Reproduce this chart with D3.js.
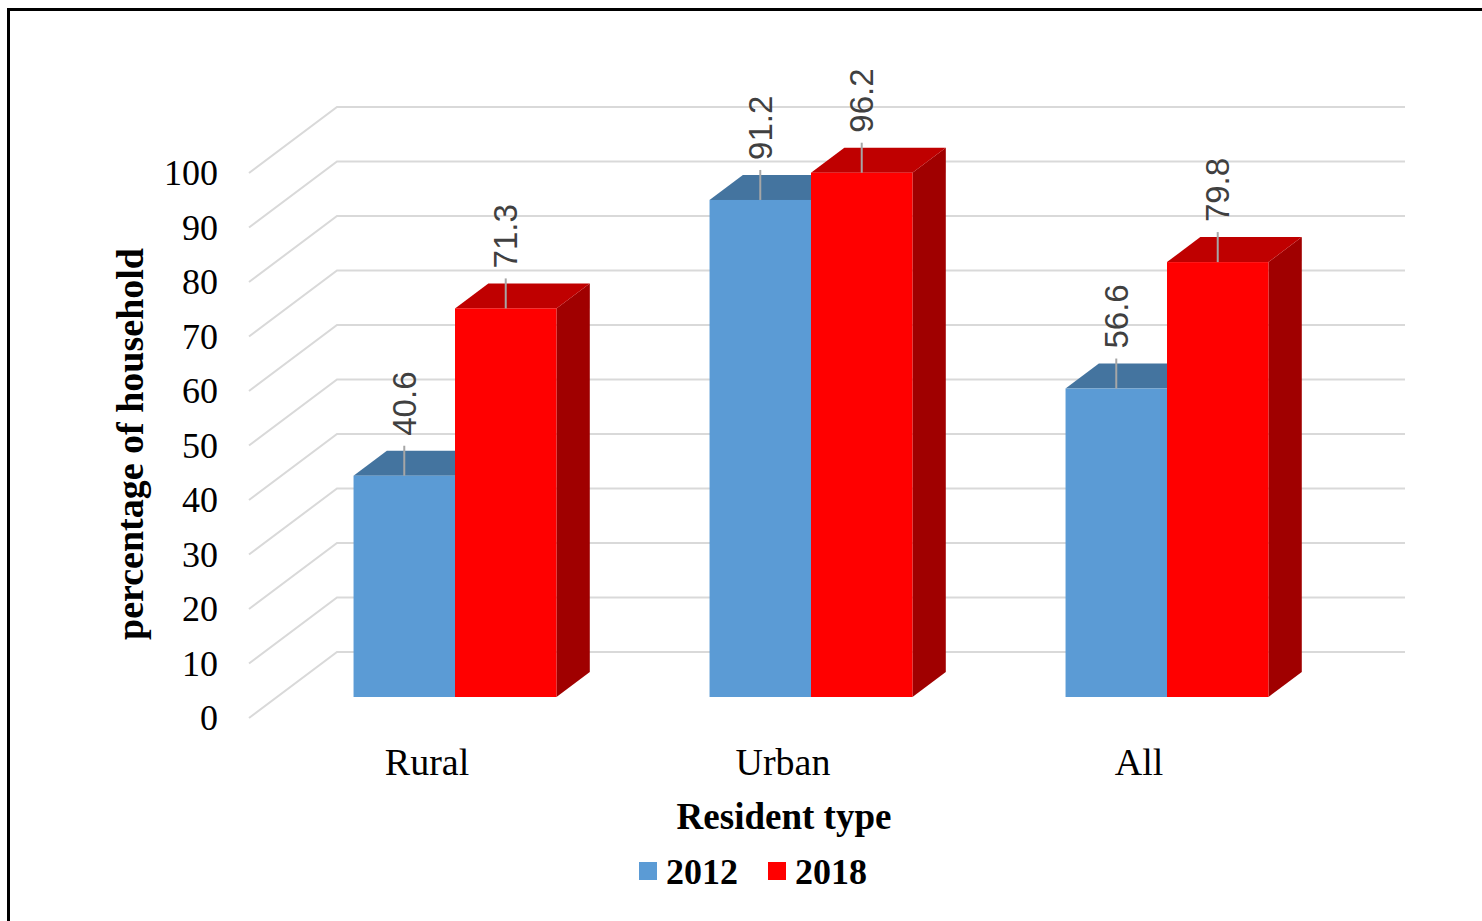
<!DOCTYPE html>
<html>
<head>
<meta charset="utf-8">
<script src="https://cdn.jsdelivr.net/npm/d3@7"></script>
<style>
  html, body { margin: 0; padding: 0; background: #fff; }
  svg { display: block; }
</style>
</head>
<body>
<svg id="chart" width="1482" height="921"></svg>
<script>
// Household share by resident type, 2012 vs 2018
const categories = ["Rural", "Urban", "All"];
const seriesNames = ["2012", "2018"];
const values2012 = [40.6, 91.2, 56.6];
const values2018 = [71.3, 96.2, 79.8];
const yTicks = [0, 10, 20, 30, 40, 50, 60, 70, 80, 90, 100];

const seriesValues = [values2012, values2018];
const palette = {
  "2012": { front: "#5B9BD5", top: "#44749F", side: "#3A6590" },
  "2018": { front: "#FF0000", top: "#BF0000", side: "#A00000" }
};

const svg = d3.select("#chart");
const W = 1482, H = 921;

// Oblique projection: depth 0 = front edge of floor, 1 = back wall
const depthX = 88, depthY = 66;
const barD0 = 21 / 66, barD1 = 46 / 66;

const y = d3.scaleLinear().domain([0, 100]).range([718, 173]);
const x = d3.scaleBand().domain(categories).range([249, 1317])
  .paddingInner(0.43).paddingOuter(0.215);
const xSub = d3.scaleBand().domain(seriesNames).range([0, x.bandwidth()]).padding(0);

const proj = (px, v, d) => [px + d * depthX, y(v) - d * depthY];

// Outer frame
svg.append("path")
  .attr("d", `M${W + 5},9.5 H8.5 V${H + 5}`)
  .attr("fill", "none").attr("stroke", "#000").attr("stroke-width", 3);

// Gridlines: diagonal along the side, then across the back wall
const grid = svg.append("g");
yTicks.forEach(t => {
  const a = proj(x.range()[0], t, 0);
  const b = proj(x.range()[0], t, 1);
  const c = proj(x.range()[1], t, 1);
  grid.append("path")
    .attr("d", `M${a[0]},${a[1]} L${b[0]},${b[1]} L${c[0]},${c[1]}`)
    .attr("fill", "none").attr("stroke", "#D9D9D9").attr("stroke-width", 2);
});

// Y tick labels
svg.append("g").selectAll("text").data(yTicks).join("text")
  .attr("x", 218).attr("y", d => y(d))
  .attr("text-anchor", "end").attr("dominant-baseline", "central")
  .attr("font-family", "'Liberation Serif', 'Times New Roman', serif")
  .attr("font-size", 36).attr("fill", "#000")
  .text(d => d);

// Bars
const barsG = svg.append("g");
const labelsG = svg.append("g");
categories.forEach((cat, ci) => {
  seriesNames.forEach((s, si) => {
    const v = seriesValues[si][ci];
    const xl = x(cat) + xSub(s);
    const xr = xl + xSub.bandwidth();
    const col = palette[s];
    const p = (px, val, d) => proj(px, val, d).join(",");
    // side face
    barsG.append("path")
      .attr("d", `M${p(xr, 0, barD0)} L${p(xr, 0, barD1)} L${p(xr, v, barD1)} L${p(xr, v, barD0)} Z`)
      .attr("fill", col.side);
    // top face
    barsG.append("path")
      .attr("d", `M${p(xl, v, barD0)} L${p(xl, v, barD1)} L${p(xr, v, barD1)} L${p(xr, v, barD0)} Z`)
      .attr("fill", col.top);
    // front face
    const f0 = proj(xl, v, barD0), f1 = proj(xr, 0, barD0);
    barsG.append("rect")
      .attr("x", f0[0]).attr("y", f0[1])
      .attr("width", f1[0] - f0[0]).attr("height", f1[1] - f0[1])
      .attr("fill", col.front);

    // value label with leader line
    const cx = (f0[0] + f1[0]) / 2;
    const ty = f0[1];
    labelsG.append("line")
      .attr("x1", cx).attr("x2", cx).attr("y1", ty).attr("y2", ty - 30)
      .attr("stroke", "#A6A6A6").attr("stroke-width", 2);
    labelsG.append("text")
      .attr("transform", `translate(${cx},${ty - 40}) rotate(-90)`)
      .attr("text-anchor", "start").attr("dominant-baseline", "central")
      .attr("font-family", "'Liberation Sans', Arial, sans-serif")
      .attr("font-size", 33).attr("fill", "#404040")
      .text(v.toFixed(1));
  });
});

// Category labels
svg.append("g").selectAll("text").data(categories).join("text")
  .attr("x", d => x(d) + x.bandwidth() / 2).attr("y", 775)
  .attr("text-anchor", "middle")
  .attr("font-family", "'Liberation Serif', 'Times New Roman', serif")
  .attr("font-size", 38).attr("fill", "#000")
  .text(d => d);

// Axis titles
svg.append("text")
  .attr("transform", "translate(143,444) rotate(-90)")
  .attr("text-anchor", "middle")
  .attr("font-family", "'Liberation Serif', 'Times New Roman', serif")
  .attr("font-weight", "bold").attr("font-size", 38).attr("fill", "#000")
  .text("percentage of household");

svg.append("text")
  .attr("x", 784).attr("y", 829)
  .attr("text-anchor", "middle")
  .attr("font-family", "'Liberation Serif', 'Times New Roman', serif")
  .attr("font-weight", "bold").attr("font-size", 37).attr("fill", "#000")
  .text("Resident type");

// Legend
const legendX = [639, 768];
const legend = svg.append("g");
seriesNames.forEach((s, i) => {
  legend.append("rect")
    .attr("x", legendX[i]).attr("y", 862).attr("width", 18).attr("height", 18)
    .attr("fill", palette[s].front);
  legend.append("text")
    .attr("x", legendX[i] + 27).attr("y", 884)
    .attr("font-family", "'Liberation Serif', 'Times New Roman', serif")
    .attr("font-weight", "bold").attr("font-size", 36).attr("fill", "#000")
    .text(s);
});
</script>
</body>
</html>
